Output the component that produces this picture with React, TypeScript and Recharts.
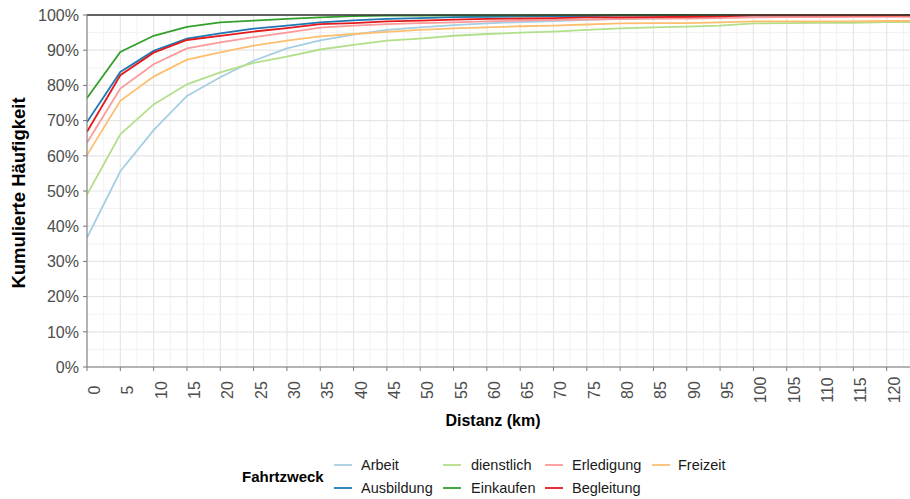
import { LineChart, Line, XAxis, YAxis, ReferenceLine } from 'recharts';

// Distanzklassen (km)
const km = [0, 5, 10, 15, 20, 25, 30, 35, 40, 45, 50, 55, 60, 65, 70, 75, 80, 85, 90, 95, 100, 105, 110, 115, 120, 125];

const arbeit = [36.7, 55.6, 67.3, 77.0, 82.3, 87.0, 90.5, 92.8, 94.4, 95.8, 96.5, 97.1, 97.6, 98.0, 98.3, 98.6, 98.8, 99.0, 99.2, 99.3, 99.4, 99.5, 99.6, 99.6, 99.7, 99.7];
const ausbildung = [69.6, 83.8, 89.8, 93.3, 94.8, 96.1, 97.0, 97.9, 98.5, 98.9, 99.1, 99.4, 99.5, 99.6, 99.7, 99.7, 99.8, 99.8, 99.9, 99.9, 100, 100, 100, 100, 100, 100];
const dienstlich = [49.0, 66.1, 74.6, 80.3, 83.7, 86.4, 88.2, 90.2, 91.5, 92.7, 93.3, 94.1, 94.6, 95.0, 95.3, 95.8, 96.2, 96.5, 96.7, 97.0, 97.6, 97.7, 97.8, 97.8, 98.0, 98.0];
const einkaufen = [76.4, 89.5, 94.1, 96.6, 97.9, 98.4, 98.9, 99.3, 99.7, 99.8, 99.85, 99.9, 99.9, 99.9, 99.95, 99.95, 100, 100, 100, 100, 100, 100, 100, 100, 100, 100];
const erledigung = [63.7, 79.1, 86.0, 90.5, 92.2, 93.7, 95.0, 96.4, 97.0, 97.4, 97.7, 97.9, 98.2, 98.4, 98.6, 98.7, 98.9, 99.0, 99.0, 99.1, 99.3, 99.4, 99.4, 99.5, 99.5, 99.5];
const begleitung = [66.8, 82.9, 89.3, 92.9, 94.1, 95.3, 96.3, 97.4, 97.7, 98.2, 98.4, 98.7, 98.9, 99.0, 99.1, 99.3, 99.3, 99.4, 99.5, 99.6, 99.9, 99.9, 99.9, 99.9, 99.9, 99.9];
const freizeit = [60.2, 75.6, 82.5, 87.3, 89.4, 91.3, 92.7, 93.9, 94.6, 95.2, 95.8, 96.2, 96.5, 96.8, 97.0, 97.3, 97.6, 97.7, 97.7, 97.9, 98.2, 98.2, 98.2, 98.2, 98.3, 98.3];

const xTicks = [0, 5, 10, 15, 20, 25, 30, 35, 40, 45, 50, 55, 60, 65, 70, 75, 80, 85, 90, 95, 100, 105, 110, 115, 120];
const yTicks = [0, 10, 20, 30, 40, 50, 60, 70, 80, 90, 100];

const serien = [
  { key: 'Arbeit', werte: arbeit, farbe: '#A6CEE3' },
  { key: 'Ausbildung', werte: ausbildung, farbe: '#1F78B4' },
  { key: 'dienstlich', werte: dienstlich, farbe: '#B2DF8A' },
  { key: 'Einkaufen', werte: einkaufen, farbe: '#33A02C' },
  { key: 'Erledigung', werte: erledigung, farbe: '#FB9A99' },
  { key: 'Begleitung', werte: begleitung, farbe: '#E31A1C' },
  { key: 'Freizeit', werte: freizeit, farbe: '#FDBF6F' },
];

const daten = km.map((d, i) => {
  const row: Record<string, number> = { km: d };
  serien.forEach((s) => {
    row[s.key] = s.werte[i];
  });
  return row;
});

const FONT = '"Liberation Sans", Arial, sans-serif';
const minorX = xTicks.map((t) => t + 2.5);
const minorY = yTicks.slice(0, -1).map((t) => t + 5);

// Legende: spaltenweise, 2 Zeilen
const legX = [334, 443, 545, 652];
const legLabelX = [361, 471, 572, 678];
const legY = [465, 488];

export default function App() {
  return (
    <div style={{ position: 'absolute', left: 0, top: 0, width: 910, height: 499, background: '#fff', fontFamily: FONT }}>
      <LineChart width={910} height={499} data={daten} margin={{ top: 15, right: 0, bottom: 0, left: 0 }}>
        {minorX.map((v) => (
          <ReferenceLine key={'mx' + v} x={v} stroke="#f2f2f2" strokeWidth={1} ifOverflow="hidden" />
        ))}
        {minorY.map((v) => (
          <ReferenceLine key={'my' + v} y={v} stroke="#f2f2f2" strokeWidth={1} />
        ))}
        {xTicks.map((v) => (
          <ReferenceLine key={'gx' + v} x={v} stroke="#e6e6e6" strokeWidth={1.2} />
        ))}
        {yTicks.map((v) => (
          <ReferenceLine key={'gy' + v} y={v} stroke="#e6e6e6" strokeWidth={1.2} />
        ))}
        <XAxis
          dataKey="km"
          type="number"
          domain={[0, 123.5]}
          allowDataOverflow
          ticks={xTicks}
          interval={0}
          height={132}
          stroke="#777"
          tickSize={4}
          tickLine={{ stroke: '#777' }}
          tick={(p: any) => (
            <text
              transform={`translate(${p.x + 13},390) rotate(-90)`}
              textAnchor="middle"
              fontSize={16}
              fill="#4d4d4d"
              fontFamily={FONT}
            >
              {p.payload.value}
            </text>
          )}
        />
        <YAxis
          type="number"
          domain={[0, 100]}
          ticks={yTicks}
          interval={0}
          width={87}
          stroke="#777"
          tickSize={4}
          tickLine={{ stroke: '#777' }}
          tick={(p: any) => (
            <text x={79} y={p.y} dy="0.36em" textAnchor="end" fontSize={16} fill="#4d4d4d" fontFamily={FONT}>
              {p.payload.value}%
            </text>
          )}
        />
        {serien.map((s) => (
          <Line
            key={s.key}
            dataKey={s.key}
            stroke={s.farbe}
            strokeWidth={1.8}
            dot={false}
            type="linear"
            isAnimationActive={false}
          />
        ))}
        <ReferenceLine y={100} stroke="#333" strokeWidth={1.3} />
      </LineChart>
      <svg width={910} height={499} style={{ position: 'absolute', left: 0, top: 0, pointerEvents: 'none' }}>
        <text
          transform="translate(25,193) rotate(-90)"
          textAnchor="middle"
          fontSize={18.5}
          fontWeight="bold"
          fill="#000"
          fontFamily={FONT}
        >
          Kumulierte Häufigkeit
        </text>
        <text x={493} y={426} textAnchor="middle" fontSize={16} fontWeight="bold" fill="#000" fontFamily={FONT}>
          Distanz (km)
        </text>
        <text x={242} y={482} fontSize={15} fontWeight="bold" fill="#000" fontFamily={FONT}>
          Fahrtzweck
        </text>
        {serien.map((s, i) => {
          const col = Math.floor(i / 2);
          const row = i % 2;
          return (
            <g key={s.key}>
              <line x1={legX[col]} x2={legX[col] + 18} y1={legY[row]} y2={legY[row]} stroke={s.farbe} strokeWidth={1.8} />
              <text x={legLabelX[col]} y={legY[row]} dy="0.36em" fontSize={14.5} fill="#1a1a1a" fontFamily={FONT}>
                {s.key}
              </text>
            </g>
          );
        })}
      </svg>
    </div>
  );
}
